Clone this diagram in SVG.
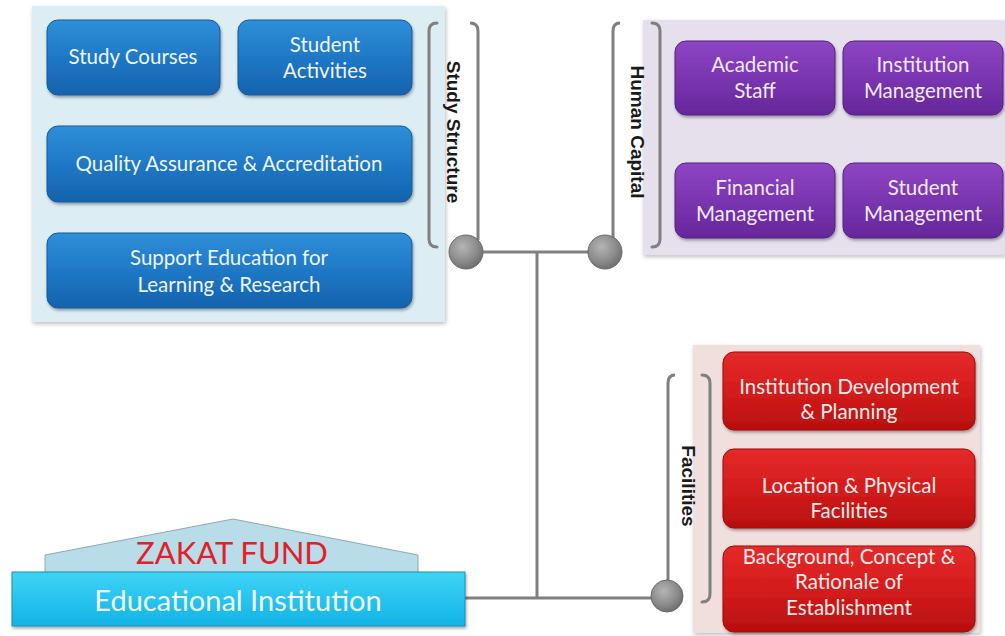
<svg xmlns="http://www.w3.org/2000/svg" width="1005" height="636" viewBox="0 0 1005 636">
<defs>
<linearGradient id="gBlue" x1="0" y1="0" x2="0" y2="1"><stop offset="0" stop-color="#2f8fd8"/><stop offset="0.5" stop-color="#1f78c6"/><stop offset="1" stop-color="#1562ad"/></linearGradient>
<linearGradient id="gPurple" x1="0" y1="0" x2="0" y2="1"><stop offset="0" stop-color="#8d45c4"/><stop offset="0.5" stop-color="#7a35b0"/><stop offset="1" stop-color="#65279a"/></linearGradient>
<linearGradient id="gRed" x1="0" y1="0" x2="0" y2="1"><stop offset="0" stop-color="#e52a2a"/><stop offset="0.5" stop-color="#d41c1c"/><stop offset="1" stop-color="#b80f0f"/></linearGradient>
<linearGradient id="gCyan" x1="0" y1="0" x2="0" y2="1"><stop offset="0" stop-color="#3fd3f5"/><stop offset="1" stop-color="#12b4e6"/></linearGradient>
<radialGradient id="gBall" cx="0.4" cy="0.35" r="0.7"><stop offset="0" stop-color="#b5b5b5"/><stop offset="0.6" stop-color="#8c8c8c"/><stop offset="1" stop-color="#6a6a6a"/></radialGradient>
<filter id="sh" x="-10%" y="-10%" width="120%" height="130%"><feDropShadow dx="1" dy="2" stdDeviation="1.5" flood-color="#000" flood-opacity="0.35"/></filter>
<filter id="psh" x="-5%" y="-5%" width="110%" height="110%"><feDropShadow dx="1" dy="2" stdDeviation="2" flood-color="#000" flood-opacity="0.25"/></filter>
</defs>
<style>
.box{stroke-width:1;filter:url(#sh)}
.b{fill:url(#gBlue);stroke:#125a9c}
.p{fill:url(#gPurple);stroke:#55207f}
.r{fill:url(#gRed);stroke:#9c0c0c}
.t{font-family:Lato,"Liberation Sans",sans-serif;font-size:20.5px;text-anchor:middle}
.tb{fill:#eef5fc}
.tp{fill:#f1e9f8}
.tr{fill:#fbecec}
.lbl{font-family:"Liberation Sans",Arial,sans-serif;font-weight:bold;font-size:19px;fill:#1a1a1a;text-anchor:middle;dominant-baseline:central}
.br{fill:none;stroke:#808080;stroke-width:3;stroke-linecap:round}
.con{fill:none;stroke:#808080;stroke-width:3}
.ball{fill:url(#gBall);stroke:#6a6a6a;stroke-width:1}
</style>

<g id="panel-study">
<rect x="32" y="6" width="413" height="316" fill="#dcedf4" filter="url(#psh)"/>
</g>
<g id="panel-human">
<rect x="643" y="20" width="362" height="235" fill="#e5e0ec" filter="url(#psh)"/>
</g>
<g id="panel-facilities">
<rect x="693" y="345" width="287" height="288" fill="#f1dfde" filter="url(#psh)"/>
</g>

<g id="connectors">
<path class="br" d="M437,23 Q429,23 429,31 L429,239 Q429,247 437,247"/>
<path class="con" d="M470,23 Q478,23 478,31 L478,240"/>
<path class="con" d="M620,23 Q613,23 613,31 L613,240"/>
<path class="br" d="M652,23 Q660,23 660,31 L660,239 Q660,247 652,247"/>
<path class="con" d="M675,375 Q668,375 668,383 L668,585"/>
<path class="br" d="M702,375 Q710,375 710,383 L710,594 Q710,602 702,602"/>
<line class="con" x1="466" y1="252" x2="605" y2="252"/>
<line class="con" x1="537" y1="252" x2="537" y2="598"/>
<line class="con" x1="462" y1="598" x2="667" y2="598"/>
<circle class="ball" cx="466" cy="252" r="17"/>
<circle class="ball" cx="605" cy="252" r="17"/>
<circle class="ball" cx="667" cy="596" r="16"/>
</g>

<g id="label-study"><text class="lbl" transform="translate(453,132) rotate(90)">Study Structure</text></g>
<g id="label-human"><text class="lbl" transform="translate(637,132) rotate(90)">Human Capital</text></g>
<g id="label-facilities"><text class="lbl" transform="translate(688,486) rotate(90)">Facilities</text></g>

<g id="study-courses"><rect class="box b" x="47" y="20" width="173" height="75" rx="11"/><text class="t tb" x="133" y="64">Study Courses</text></g>
<g id="student-activities"><rect class="box b" x="238" y="20" width="174" height="75" rx="11"/><text class="t tb" x="325" y="52">Student</text><text class="t tb" x="325" y="78">Activities</text></g>
<g id="quality"><rect class="box b" x="47" y="126" width="365" height="76" rx="11"/><text class="t tb" x="229" y="171">Quality Assurance &amp; Accreditation</text></g>
<g id="support"><rect class="box b" x="47" y="233" width="365" height="75" rx="11"/><text class="t tb" x="229" y="265">Support Education for</text><text class="t tb" x="229" y="292">Learning &amp; Research</text></g>

<g id="academic-staff"><rect class="box p" x="675" y="41" width="160" height="74" rx="11"/><text class="t tp" x="755" y="72">Academic</text><text class="t tp" x="755" y="98">Staff</text></g>
<g id="institution-management"><rect class="box p" x="843" y="41" width="160" height="74" rx="11"/><text class="t tp" x="923" y="72">Institution</text><text class="t tp" x="923" y="98">Management</text></g>
<g id="financial-management"><rect class="box p" x="675" y="163" width="160" height="75" rx="11"/><text class="t tp" x="755" y="195">Financial</text><text class="t tp" x="755" y="221">Management</text></g>
<g id="student-management"><rect class="box p" x="843" y="163" width="160" height="75" rx="11"/><text class="t tp" x="923" y="195">Student</text><text class="t tp" x="923" y="221">Management</text></g>

<g id="institution-development"><rect class="box r" x="723" y="352" width="252" height="78" rx="11"/><text class="t tr" x="849" y="394">Institution Development</text><text class="t tr" x="849" y="419">&amp; Planning</text></g>
<g id="location"><rect class="box r" x="723" y="449" width="252" height="79" rx="11"/><text class="t tr" x="849" y="493">Location &amp; Physical</text><text class="t tr" x="849" y="518">Facilities</text></g>
<g id="background"><rect class="box r" x="723" y="546" width="252" height="86" rx="11"/><text class="t tr" x="849" y="564">Background, Concept &amp;</text><text class="t tr" x="849" y="589">Rationale of</text><text class="t tr" x="849" y="615">Establishment</text></g>

<g id="educational-institution">
<polygon points="45,573 45,555 233,519 418,555 418,573" fill="#b8dce8" stroke="#8fa9b3" stroke-width="1"/>
<text x="232" y="564" font-family="Lato,'Liberation Sans',sans-serif" font-size="31" fill="#e0202a" text-anchor="middle">ZAKAT FUND</text>
<rect x="12" y="572" width="453" height="54" fill="url(#gCyan)" stroke="#1a8fb8" stroke-width="1" filter="url(#sh)"/>
<text x="238" y="611" font-family="Lato,'Liberation Sans',sans-serif" font-size="29" fill="#eef8fc" text-anchor="middle">Educational Institution</text>
</g>
</svg>
